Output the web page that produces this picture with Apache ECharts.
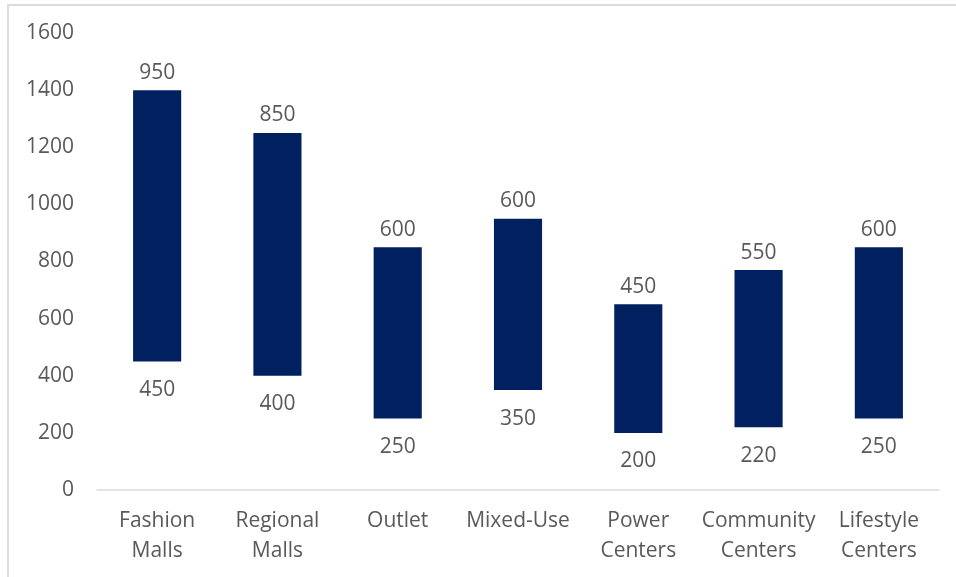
<!DOCTYPE html>
<html>
<head>
<meta charset="utf-8">
<script src="https://cdn.jsdelivr.net/npm/echarts@6/dist/echarts.min.js"></script>
<style>
html,body{margin:0;padding:0;background:#fff;}
#chart{width:956px;height:577px;}
</style>
</head>
<body>
<div id="chart"></div>
<script>
const categories = ['Fashion\nMalls', 'Regional\nMalls', 'Outlet', 'Mixed-Use', 'Power\nCenters', 'Community\nCenters', 'Lifestyle\nCenters'];
const lowValues = [450, 400, 250, 350, 200, 220, 250];
const rangeValues = [950, 850, 600, 600, 450, 550, 600];
const yTicks = [0, 200, 400, 600, 800, 1000, 1200, 1400, 1600];

const textColor = '#595959';
const fontFamily = '"Open Sans", "Liberation Sans", sans-serif';
const fs = 21;

const chart = echarts.init(document.getElementById('chart'), null, {renderer: 'canvas'});
chart.setOption({
  animation: false,
  backgroundColor: '#ffffff',
  graphic: [{
    type: 'rect',
    shape: {x: 8, y: 5, width: 970, height: 600},
    style: {fill: 'none', stroke: '#dcdcdc', lineWidth: 2},
    silent: true,
    z: -1
  }],
  grid: {left: 97, right: 17, top: 33, bottom: 87, containLabel: false},
  xAxis: {
    type: 'category',
    data: categories,
    axisLine: {show: true, lineStyle: {color: '#d9d9d9', width: 1.5}},
    axisTick: {show: false},
    axisLabel: {color: textColor, fontSize: fs, fontFamily: fontFamily, lineHeight: 30, margin: 16, interval: 0}
  },
  yAxis: {
    type: 'value',
    min: yTicks[0],
    max: yTicks[yTicks.length - 1],
    interval: 200,
    axisLine: {show: false},
    axisTick: {show: false},
    splitLine: {show: false},
    axisLabel: {color: textColor, fontSize: fs, fontFamily: fontFamily, margin: 23, formatter: function (v) { return String(v); }}
  },
  series: [
    {
      name: 'Low',
      type: 'bar',
      stack: 'range',
      data: lowValues,
      barWidth: '40%',
      itemStyle: {color: 'transparent'},
      label: {
        show: true,
        position: 'insideTop',
        distance: 18,
        color: textColor,
        fontSize: fs,
        fontFamily: fontFamily
      }
    },
    {
      name: 'Range',
      type: 'bar',
      stack: 'range',
      data: rangeValues,
      barWidth: '40%',
      itemStyle: {color: '#002060'},
      label: {
        show: true,
        position: 'top',
        distance: 7,
        color: textColor,
        fontSize: fs,
        fontFamily: fontFamily
      }
    }
  ]
});
</script>
</body>
</html>
